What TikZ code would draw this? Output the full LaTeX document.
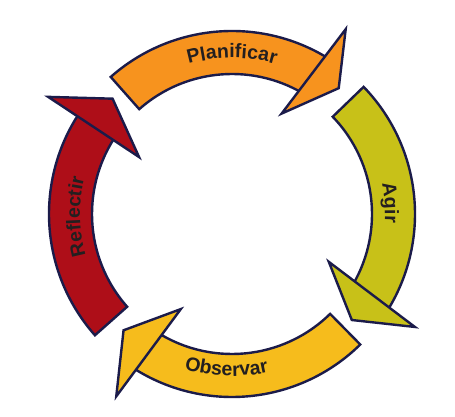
\documentclass[tikz,border=0pt]{standalone}
\usepackage{fontspec}
\usepackage{tikz}
\usetikzlibrary{decorations.text}
\newfontfamily\cyclefont{Liberation Sans}

\begin{document}
\begin{tikzpicture}[x=1pt, y=1pt,
  band/.style={draw=cycleline, line width=2.4pt, line join=miter},
  cyclelabel/.style={decorate, decoration={text along path, text align=center,
    text color=labelink, text={|\cyclefont\bfseries\fontsize{19.5}{22}\selectfont|#1}}}]
  \definecolor{cycleline}{HTML}{1B1B4A}
  \definecolor{labelink}{HTML}{231F20}
  \definecolor{planorange}{HTML}{F7931E}
  \definecolor{agirgreen}{HTML}{C8C118}
  \definecolor{obsgold}{HTML}{F6BC1C}
  \definecolor{reflred}{HTML}{AE0E18}

  \useasboundingbox[fill=white] (-232,-203) rectangle (223,214);

  % Planificar
  \draw[band, fill=planorange] (131.5:183) arc[start angle=131.5, end angle=57, radius=183]
    -- (57:140) arc[start angle=57, end angle=131.5, radius=140] -- cycle;
  \draw[band, fill=planorange] (58.4:217) -- (49.7:165) -- (63.7:112) -- cycle;
  \path[cyclelabel={Planificar}] (135:156) arc[start angle=135, end angle=45, radius=156];

  % Agir
  \draw[band, fill=agirgreen] (44:183) arc[start angle=44, end angle=-33, radius=183]
    -- (-33:140) arc[start angle=-33, end angle=44, radius=140] -- cycle;
  \draw[band, fill=agirgreen] (-31.7:215) -- (-41.5:160) -- (-26.3:108) -- cycle;
  \path[cyclelabel={Agir}] (34:153) arc[start angle=34, end angle=-26, radius=153];

  % Observar
  \draw[band, fill=obsgold] (-45.5:183) arc[start angle=-45.5, end angle=-124, radius=183]
    -- (-124:140) arc[start angle=-124, end angle=-45.5, radius=140] -- cycle;
  \draw[band, fill=obsgold] (-122.4:216) -- (-133:159) -- (-118.3:108) -- cycle;
  \path[cyclelabel={Observar}] (-137:162) arc[start angle=-137, end angle=-47, radius=162];

  % Reflectir
  \draw[band, fill=reflred] (221.5:183) arc[start angle=221.5, end angle=144, radius=183]
    -- (144:140) arc[start angle=144, end angle=221.5, radius=140] -- cycle;
  \draw[band, fill=reflred] (147.5:218) -- (136:166) -- (148.5:109) -- cycle;
  \path[cyclelabel={Reflectir}] (221:152) arc[start angle=221, end angle=141, radius=152];
\end{tikzpicture}
\end{document}
